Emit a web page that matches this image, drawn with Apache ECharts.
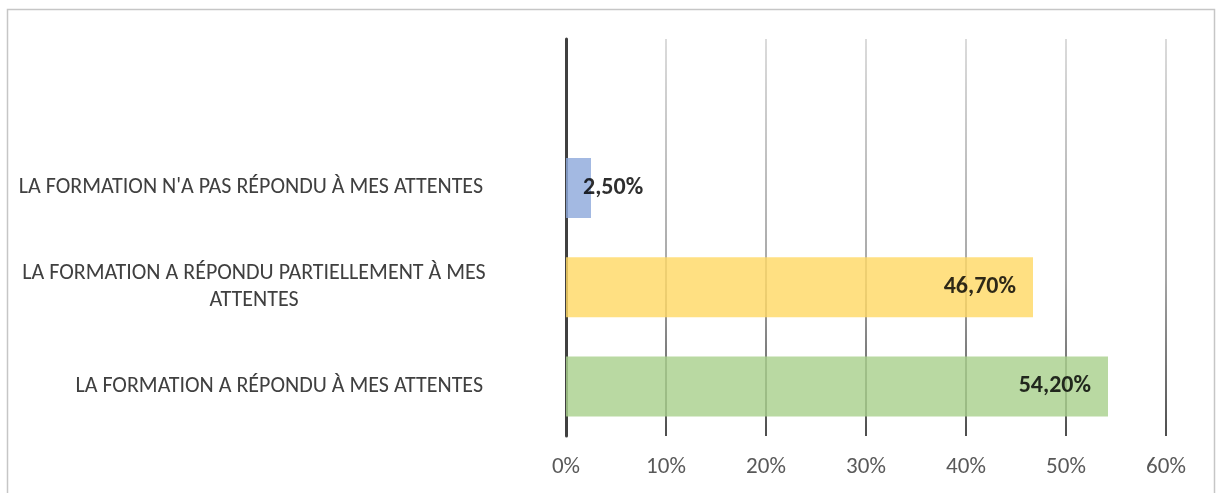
<!DOCTYPE html>
<html>
<head>
<meta charset="utf-8">
<script src="https://cdn.jsdelivr.net/npm/echarts@6/dist/echarts.min.js"></script>
<style>
  html, body { margin: 0; padding: 0; background: #fff; }
  #chart { width: 1216px; height: 493px; }
</style>
</head>
<body>
<div id="chart"></div>
<script>
// categories from bottom to top (the last one is the empty slot above the bars)
const categories = [
	'LA FORMATION A RÉPONDU À MES ATTENTES',
	'LA FORMATION A RÉPONDU PARTIELLEMENT À MES\nATTENTES',
	"LA FORMATION N'A PAS RÉPONDU À MES ATTENTES",
	''
];
const values = [54.2, 46.7, 2.5, null];
const barColors = ['#a9d18e', '#ffd966', '#8faadc', '#8faadc'];
const ticks = [0, 10, 20, 30, 40, 50, 60];

const font = 'Carlito, Lato, sans-serif';

let chart = echarts.init(document.getElementById('chart'));

// données des barres avec couleur et étiquette
const barData = values.map(function (v, i) {
	let item = {
		value: v,
		itemStyle: { color: barColors[i], opacity: 0.82 }
	};
	// petite barre : étiquette qui déborde à droite
	if (v !== null && v < 10) {
		item.label = { position: 'right', distance: 0, offset: [-8, 0] };
	}
	return item;
});

let option = {
	animation: false,
	grid: { left: 566, right: 50, top: 39, bottom: 57 },
	graphic: [{
		type: 'rect',
		shape: { x: 7.5, y: 9.5, width: 1207, height: 520 },
		style: { fill: 'none', stroke: '#c6c6c6', lineWidth: 1.5 },
		silent: true
	}],
	xAxis: {
		type: 'value',
		min: ticks[0],
		max: ticks[ticks.length - 1],
		interval: 10,
		axisLine: { show: false },
		axisTick: { show: false },
		axisLabel: {
			formatter: '{value}%',
			color: '#595959',
			fontFamily: font,
			fontSize: 23,
			margin: 20
		},
		splitLine: {
			show: true,
			lineStyle: {
				width: 1.5,
				color: new echarts.graphic.LinearGradient(0, 0, 0, 1, [
					{ offset: 0, color: '#d0d0d0' },
					{ offset: 0.6, color: '#888888' },
					{ offset: 1, color: '#111111' }
				])
			}
		}
	},
	yAxis: {
		type: 'category',
		data: categories,
		axisLine: { show: true, lineStyle: { color: '#404040', width: 3 } },
		axisTick: { show: false },
		axisLabel: {
			color: '#404040',
			fontFamily: font,
			fontSize: 22,
			margin: 83,
			formatter: function (v) {
				if (v.indexOf('\n') >= 0) return '{c|' + v + '}';
				return v;
			},
			rich: {
				c: { width: 458, align: 'center', lineHeight: 27, fontFamily: font, fontSize: 22, color: '#404040' }
			}
		}
	},
	series: [{
		type: 'bar',
		data: barData,
		barWidth: 60,
		label: {
			show: true,
			position: 'insideRight',
			distance: 17,
			color: '#000',
			fontFamily: font,
			fontWeight: 'bold',
			fontSize: 24,
			formatter: function (p) {
				return p.value.toFixed(2).replace('.', ',') + '%';
			}
		}
	}]
};

chart.setOption(option);
</script>
</body>
</html>
